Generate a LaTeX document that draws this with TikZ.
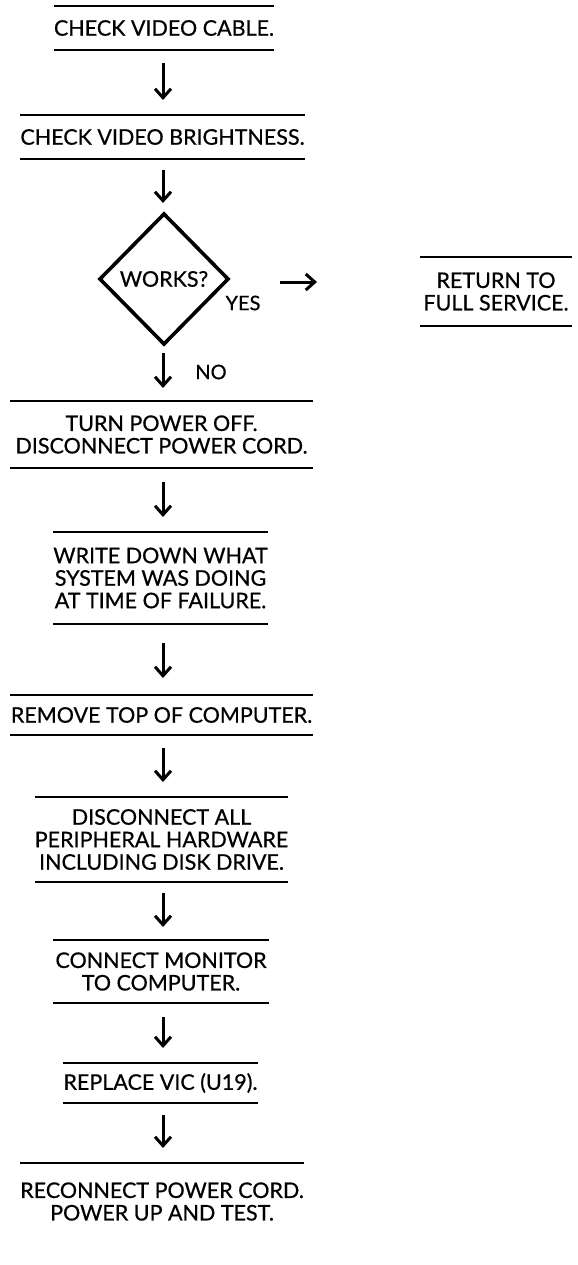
\documentclass[tikz,border=0pt]{standalone}
\usepackage{fontspec}
\setmainfont{Lato}[UprightFeatures={FakeBold=0.6}]
\usetikzlibrary{shapes.geometric,arrows.meta}
\begin{document}
\begin{tikzpicture}[x=1bp,y=-1bp,
  every node/.style={font=\fontsize{21.5bp}{22.5bp}\selectfont, inner sep=0pt, outer sep=0pt, align=center},
  pbox/.style n args={2}{minimum width=#1, minimum height=#2},
  rule/.style={line width=1.9bp},
  arr/.style={line width=3bp, -{Straight Barb[length=9bp,width=16bp,line width=3bp]}},
  lbl/.style={font=\fontsize{20bp}{22bp}\selectfont}]
\useasboundingbox (0,0) rectangle (578,1265);

\node[pbox={218bp}{44bp}] (b1) at (164,28) {CHECK VIDEO CABLE.};
\node[pbox={281bp}{44bp}] (b2) at (162.5,137) {CHECK VIDEO BRIGHTNESS.};
\node[draw, diamond, minimum width=128bp, minimum height=130bp, line width=3.6bp] (dia) at (164,279) {WORKS?};
\node[pbox={152bp}{69bp}] (ret) at (496,291.5) {RETURN TO\\FULL SERVICE.};
\node[pbox={303bp}{67bp}] (turn) at (161.5,434.5) {TURN POWER OFF.\\DISCONNECT POWER CORD.};
\node[pbox={215bp}{92bp}] (write) at (160.5,578) {WRITE DOWN WHAT\\SYSTEM WAS DOING\\AT TIME OF FAILURE.};
\node[pbox={303bp}{40bp}] (remove) at (161.5,715) {REMOVE TOP OF COMPUTER.};
\node[pbox={237bp}{85bp}] (disc) at (161.5,839.5) {DISCONNECT ALL\\PERIPHERAL HARDWARE\\INCLUDING DISK DRIVE.};
\node[pbox={216bp}{63bp}] (conn) at (161,971.5) {CONNECT MONITOR\\TO COMPUTER.};
\node[pbox={195bp}{40bp}] (repl) at (160.5,1083) {REPLACE VIC (U19).};
\node[pbox={280bp}{77bp}] (recon) at (162,1201.5) {RECONNECT POWER CORD.\\POWER UP AND TEST.};

\foreach \n in {b1,b2,ret,turn,write,remove,disc,conn,repl}{
  \draw[rule] (\n.north west) -- (\n.north east);
  \draw[rule] (\n.south west) -- (\n.south east);
}
\draw[rule] (recon.north west) -- (recon.north east);

\node[lbl] (yes) at (243,303) {YES};
\node[lbl] (no) at (211,372) {NO};

\draw[arr, shorten <=13bp, shorten >=15bp] (163,0 |- b1.south) -- (163,0 |- b2.north);
\draw[arr, shorten <=11bp, shorten >=11bp] (163,0 |- b2.south) -- (163,0 |- dia.north);
\draw[arr, shorten <=9bp, shorten >=13bp] (163,0 |- dia.south) -- (163,0 |- turn.north);
\draw[arr, shorten <=14bp, shorten >=15bp] (163,0 |- turn.south) -- (163,0 |- write.north);
\draw[arr, shorten <=19bp, shorten >=17bp] (163,0 |- write.south) -- (163,0 |- remove.north);
\draw[arr, shorten <=13bp, shorten >=15bp] (163,0 |- remove.south) -- (163,0 |- disc.north);
\draw[arr, shorten <=11bp, shorten >=13bp] (163,0 |- disc.south) -- (163,0 |- conn.north);
\draw[arr, shorten <=14bp, shorten >=15bp] (163,0 |- conn.south) -- (163,0 |- repl.north);
\draw[arr, shorten <=12bp, shorten >=15bp] (163,0 |- repl.south) -- (163,0 |- recon.north);
\draw[arr, shorten <=52bp, shorten >=103bp] ([yshift=-3bp]dia.east) -- ([yshift=-3bp]dia.east -| ret.west);
\end{tikzpicture}
\end{document}
